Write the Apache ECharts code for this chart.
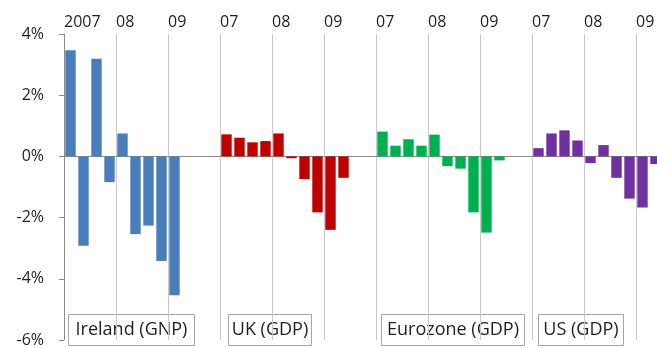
<!DOCTYPE html>
<html>
<head>
<meta charset="utf-8">
<script src="https://cdn.jsdelivr.net/npm/echarts@6/dist/echarts.min.js"></script>
<style>html,body{margin:0;padding:0;background:#fff;overflow:hidden}#c{width:700px;height:348px}</style>
</head>
<body>
<div id="c"></div>
<script>
// Panels (12 quarter slots each: 2007Q1 .. 2009Q4)
var panels = ["Ireland (GNP)", "UK (GDP)", "Eurozone (GDP)", "US (GDP)"];
var years = ["2007", "2008", "2009"];
var quarters = ["Q1", "Q2", "Q3", "Q4"];
// Quarterly growth, %, from 2007Q1
var ireland = [3.47, -2.92, 3.19, -0.84, 0.75, -2.54, -2.26, -3.42, -4.54];
var uk = [0.72, 0.61, 0.46, 0.50, 0.75, -0.06, -0.74, -1.83, -2.40, -0.70];
var euro = [0.81, 0.35, 0.56, 0.35, 0.71, -0.32, -0.40, -1.83, -2.49, -0.13];
var us = [0.27, 0.75, 0.85, 0.52, -0.22, 0.37, -0.70, -1.38, -1.67, -0.25];
// Year tick labels along the top
var topLabels = ["2007", "08", "09", "07", "08", "09", "07", "08", "09", "07", "08", "09"];
var yTicks = [-6, -4, -2, 0, 2, 4];

var categories = [];
panels.forEach(function (p) {
  years.forEach(function (y) {
    quarters.forEach(function (q) { categories.push(p + " " + y + " " + q); });
  });
});
function slot(panelIndex, values) {
  var arr = categories.map(function () { return null; });
  values.forEach(function (v, i) { arr[panelIndex * 12 + i] = v; });
  return arr;
}
var colors = ["#4a7ebb", "#c00000", "#00b050", "#7030a0"];
var seriesValues = [ireland, uk, euro, us];

var chart = echarts.init(document.getElementById('c'), null, {renderer: 'canvas'});
var font = '"Open Sans", "DejaVu Sans", sans-serif';
var option = {
  animation: false,
  grid: {left: 64, top: 34, right: 12, height: 312, containLabel: false},
  xAxis: [
    {
      type: 'category', data: categories, position: 'bottom',
      boundaryGap: true,
      axisLine: {onZero: true, lineStyle: {color: '#8c8c8c', width: 1}},
      axisTick: {show: false}, axisLabel: {show: false}, splitLine: {show: false}
    },
    {
      type: 'value', position: 'top', min: 0, max: categories.length, interval: 4,
      axisLine: {show: false}, axisTick: {show: false},
      splitLine: {show: true, lineStyle: {color: '#c8c8c8', width: 1}},
      axisLabel: {
        show: true, align: 'left', margin: 4, color: '#1f1f1f', fontSize: 16, fontFamily: font,
        showMaxLabel: false,
        formatter: function (v) { return topLabels[Math.round(v / 4)] || ''; }
      }
    }
  ],
  yAxis: {
    type: 'value', min: yTicks[0], max: yTicks[yTicks.length - 1], interval: 2,
    axisLine: {show: true, lineStyle: {color: '#8c8c8c'}},
    axisTick: {show: true, length: 5, lineStyle: {color: '#8c8c8c'}},
    splitLine: {show: false},
    axisLabel: {margin: 20, color: '#1f1f1f', fontSize: 16, fontFamily: font,
      formatter: function (v) { return v + '%'; }}
  },
  series: seriesValues.map(function (vals, i) {
    return {
      type: 'bar', xAxisIndex: 0, yAxisIndex: 0,
      data: slot(i, vals), barGap: '-100%', barCategoryGap: '20%',
      itemStyle: {color: colors[i]}
    };
  }),
  graphic: []
};
var boxes = [[68, 126], [228, 83], [381, 143], [538, 85]];
panels.forEach(function (p, i) {
  var b = boxes[i];
  option.graphic.push({
    type: 'group', z: 100,
    children: [
      {type: 'rect', shape: {x: b[0] + 0.5, y: 314.5, width: b[1], height: 31},
        style: {fill: '#fff', stroke: '#a6a6a6', lineWidth: 1}},
      {type: 'text', x: b[0] + b[1] / 2 + 0.5, y: 330,
        style: {text: p, fill: '#1f1f1f', font: '18px ' + font, align: 'center', verticalAlign: 'middle'}}
    ]
  });
});
chart.setOption(option);
</script>
</body>
</html>
